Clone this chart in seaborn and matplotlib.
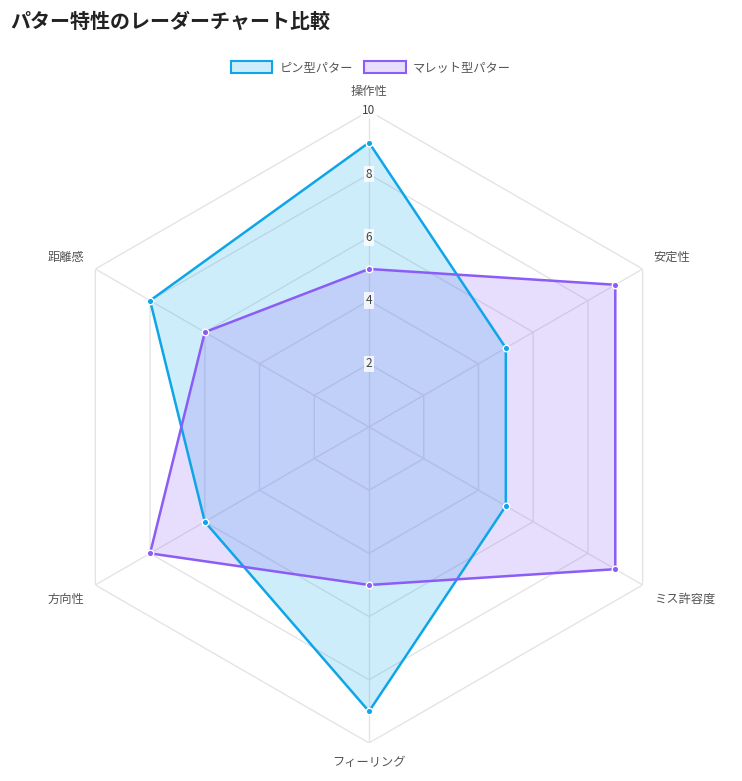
import numpy as np
import pandas as pd
import matplotlib.pyplot as plt
import seaborn as sns
from matplotlib.patches import Patch

categories = ["操作性", "安定性", "ミス許容度", "フィーリング", "方向性", "距離感"]
pin_values = [9, 5, 5, 9, 6, 8]
mallet_values = [5, 9, 9, 5, 8, 6]
series_names = ["ピン型パター", "マレット型パター"]
ticks = [2, 4, 6, 8, 10]

sns.set_style("white")
plt.rcParams["font.family"] = ["Noto Sans CJK JP", "DejaVu Sans"]

colors = ["#0ea5e9", "#8b5cf6"]
fills = [(14/255, 165/255, 233/255, 0.2), (139/255, 92/255, 246/255, 0.2)]

n = len(categories)
angles = np.linspace(0, 2 * np.pi, n, endpoint=False)
closed = np.append(angles, angles[0])

fig = plt.figure(figsize=(7.42, 7.81), dpi=100)
ax = fig.add_axes([0.0714, 0.0487, 0.8518, 0.8092], projection="polar")
ax.set_theta_offset(np.pi / 2)
ax.set_theta_direction(-1)
ax.set_ylim(0, 10)
ax.grid(False)
ax.spines["polar"].set_visible(False)
ax.set_xticks([])
ax.set_yticks([])

# hexagon grid and spokes
for t in ticks:
    ax.plot(closed, [t] * (n + 1), color="#e4e4e4", lw=1, zorder=0)
for a in angles:
    ax.plot([a, a], [0, 10], color="#e4e4e4", lw=1, zorder=0)

df = pd.DataFrame({
    "angle": np.concatenate([closed, closed]),
    "value": pin_values + pin_values[:1] + mallet_values + mallet_values[:1],
    "series": [series_names[0]] * (n + 1) + [series_names[1]] * (n + 1),
})

for name, fc in zip(series_names, fills):
    sub = df[df["series"] == name]
    ax.fill(sub["angle"], sub["value"], color=fc, lw=0, zorder=1)
sns.lineplot(data=df, x="angle", y="value", hue="series", palette=colors,
             sort=False, estimator=None, lw=1.8, legend=False, ax=ax, zorder=2)
for name, col in zip(series_names, colors):
    sub = df[df["series"] == name]
    ax.scatter(sub["angle"][:-1], sub["value"][:-1], s=22, color=col,
               edgecolor="white", linewidth=1, zorder=3)

# tick labels
for t in ticks:
    ax.text(0, t, str(t), ha="center", va="center", fontsize=8.5, color="#444444",
            bbox=dict(boxstyle="square,pad=0.15", fc="white", ec="none", alpha=0.8),
            zorder=4)

# category labels
for a, lab in zip(angles, categories):
    s = np.sin(a)
    c = np.cos(a)
    dy = 0
    if abs(s) < 0.01:
        ha = "center"
        va = "bottom" if c > 0 else "top"
    else:
        ha = "left" if s > 0 else "right"
        va = "center"
        dy = 4 if c > 0 else -6
    ax.annotate(lab, xy=(a, 10.4), xytext=(0, dy), textcoords="offset points",
                ha=ha, va=va, fontsize=8.8, color="#555555", annotation_clip=False)

fig.legend([Patch(facecolor=fc, edgecolor=col, lw=1.5) for fc, col in zip(fills, colors)],
           series_names, loc="center", bbox_to_anchor=(0.5, 1 - 68 / 781),
           ncol=2, frameon=False, fontsize=8.8, handlelength=3.4, handleheight=1.1,
           columnspacing=0.9, handletextpad=0.6, labelcolor="#555555")

fig.text(10 / 742, 1 - 21 / 781, "パター特性のレーダーチャート比較", ha="left", va="center",
         fontsize=14.4, fontweight="bold", color="#222222")

fig.savefig("out.png", dpi=100)
